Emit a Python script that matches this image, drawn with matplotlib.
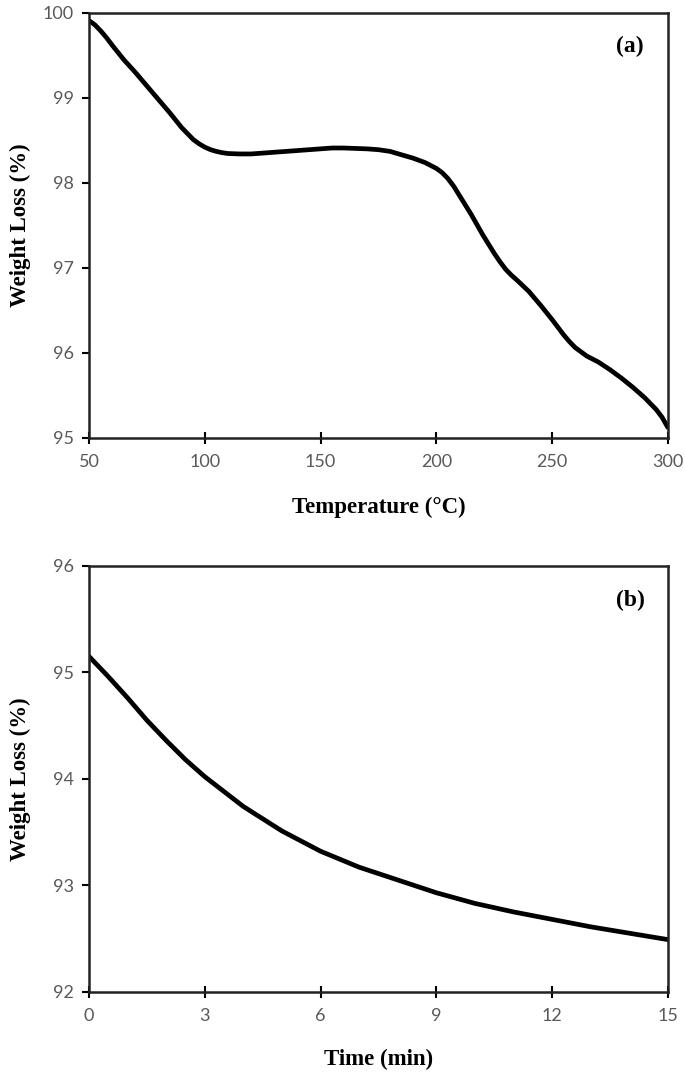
import matplotlib.pyplot as plt

# (a) weight loss vs temperature
temp = [50, 52.5, 55, 57.5, 60, 65, 70, 75, 80, 85, 90, 92.5, 95, 97.5, 100, 102.5,
        105, 107.5, 110, 115, 120, 130, 140, 150, 155, 160, 170, 175, 180, 185, 190,
        195, 200, 202.5, 205, 207.5, 210, 215, 220, 225, 227.5, 230, 232.5, 235, 240,
        245, 250, 252.5, 255, 257.5, 260, 262.5, 265, 270, 275, 280, 285, 290, 295,
        297.5, 300]
wl_temp = [99.91, 99.86, 99.79, 99.71, 99.62, 99.45, 99.30, 99.14, 98.98, 98.82,
           98.65, 98.58, 98.51, 98.46, 98.42, 98.39, 98.37, 98.355, 98.345, 98.34,
           98.34, 98.36, 98.38, 98.40, 98.41, 98.41, 98.40, 98.39, 98.37, 98.33,
           98.29, 98.24, 98.17, 98.12, 98.05, 97.96, 97.85, 97.63, 97.39, 97.17,
           97.07, 96.98, 96.91, 96.85, 96.72, 96.56, 96.39, 96.30, 96.21, 96.13,
           96.06, 96.01, 95.96, 95.89, 95.80, 95.70, 95.59, 95.47, 95.33, 95.24,
           95.12]

# (b) weight loss vs time
time_min = [0, 0.5, 1, 1.5, 2, 2.5, 3, 4, 5, 6, 7, 8, 9, 10, 11, 12, 13, 14, 15]
wl_time = [95.15, 94.96, 94.76, 94.55, 94.36, 94.18, 94.02, 93.74, 93.51, 93.32,
           93.17, 93.05, 92.93, 92.83, 92.75, 92.68, 92.61, 92.55, 92.49]

tick_font = dict(family='Lato', size=13, color='#595959')
lab_font = dict(family='Liberation Serif', size=16.5, weight='bold')

fig = plt.figure(figsize=(6.85, 10.78), dpi=100)
ax1 = fig.add_axes([0.130, 0.594, 0.845, 0.394])
ax2 = fig.add_axes([0.130, 0.080, 0.845, 0.395])

panels = [
    (ax1, temp, wl_temp, (50, 300), range(50, 301, 50), (95, 100), range(95, 101),
     'Temperature (°C)', '(a)'),
    (ax2, time_min, wl_time, (0, 15), range(0, 16, 3), (92, 96), range(92, 97),
     'Time (min)', '(b)'),
]

for ax, x, y, xl, xt, yl, yt, xlabel, tag in panels:
    ax.plot(x, y, color='black', lw=3.4, solid_capstyle='round', solid_joinstyle='round')
    ax.set_xlim(*xl)
    ax.set_ylim(*yl)
    ax.set_xticks(list(xt))
    ax.set_yticks(list(yt))
    for s in ax.spines.values():
        s.set_linewidth(1.8)
        s.set_color('#222222')
    ax.tick_params(axis='y', direction='out', length=5, width=1.5, pad=6)
    ax.tick_params(axis='x', direction='inout', length=8, width=1.5, pad=8)
    for lbl in ax.get_xticklabels() + ax.get_yticklabels():
        lbl.set_fontfamily(tick_font['family'])
        lbl.set_fontsize(tick_font['size'])
        lbl.set_color(tick_font['color'])
    ax.set_xlabel(xlabel, **lab_font)
    ax.set_ylabel('Weight Loss (%)', **lab_font)
    ax.yaxis.set_label_coords(-0.100, 0.5)
    ax.text(0.935, 0.92, tag, transform=ax.transAxes, ha='center', va='center',
            family='Liberation Serif', size=17, weight='bold')

ax1.xaxis.set_label_coords(0.5, -0.140)
ax2.xaxis.set_label_coords(0.5, -0.135)

fig.savefig('out.png', dpi=100)
